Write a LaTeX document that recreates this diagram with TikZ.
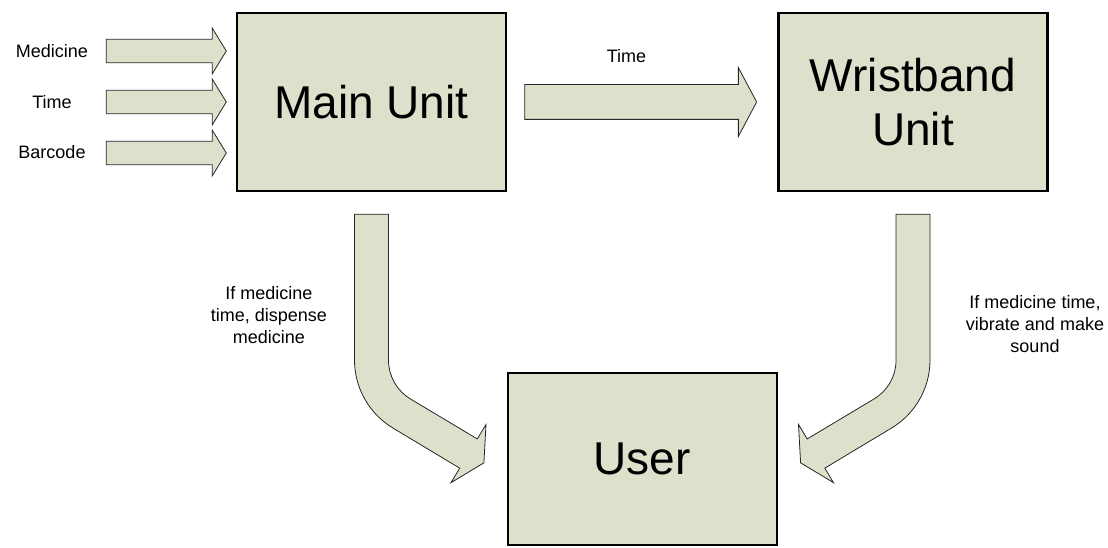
\documentclass[tikz,border=0pt]{standalone}
\usepackage{fontspec}
\setmainfont{Liberation Sans}
\usepackage{tikz}
\usetikzlibrary{positioning,calc,shapes.arrows}
\definecolor{unitfill}{RGB}{221,224,203}

\begin{document}
\begin{tikzpicture}[x=1pt, y=-1pt,
    every node/.style={font=\fontsize{18}{22}\selectfont},
    unit/.style={draw, line width=2.5pt, fill=unitfill, align=center, minimum width=269pt, minimum height=178pt, font=\fontsize{46}{54}\selectfont},
    fatarrow/.style={single arrow, draw=black!85, line width=0.8pt, fill=unitfill, inner xsep=0pt, inner ysep=17pt, single arrow head extend=17pt, single arrow tip angle=124, minimum width=0pt},
    thinarrow/.style={fatarrow, inner ysep=11.3pt, single arrow head extend=11.2pt, single arrow tip angle=117},
    bendarrow/.style={draw=black!85, line width=0.8pt, fill=unitfill}]
    \useasboundingbox (0,0) rectangle (1108,548);
    \node[unit] (main) at (371.5,102) {Main Unit};
    \node[unit, right=270pt of main] (band) {Wristband\\Unit};
    \node[unit, minimum height=172pt, anchor=north] (user) at ($(main.south)!.5!(band.south)+(0,179.5)$) {User};
    % inputs
    \node[thinarrow, minimum height=120pt, anchor=tip] (aMed) at ($(main.west)+(-9,-51)$) {};
    \node[thinarrow, minimum height=120pt, anchor=tip] (aTim) at ($(main.west)+(-9,0)$) {};
    \node[thinarrow, minimum height=120pt, anchor=tip] (aBar) at ($(main.west)+(-9,51)$) {};
    \node (lMed) at (52,51) {Medicine};
    \node (lTim) at (52,102) {Time};
    \node (lBar) at (52,152) {Barcode};
    % main unit -> wristband
    \node[fatarrow, minimum height=232pt, anchor=tail] (aTime) at ($(main.east)+(17,0)$) {};
    \node (lTime) at (626.5,56) {Time};
    % units -> user
    \begin{scope}[shift={(main.south)}]
      \draw[bendarrow] (-17,22) -- (-17,168) .. controls (-17,195.6) and (-2.4,221.4) .. (21.3,235.7) -- (88.2,275.9) -- (79.5,290.4) -- (112.4,270.6) -- (114.5,232.2) -- (105.8,246.7) -- (38.8,206.6) .. controls (25.3,198.5) and (17,183.8) .. (17,168) -- (17,22) -- cycle;
    \end{scope}
    \begin{scope}[shift={(band.south)}, xscale=-1]
      \draw[bendarrow] (-17,22) -- (-17,168) .. controls (-17,195.6) and (-2.4,221.4) .. (21.3,235.7) -- (88.2,275.9) -- (79.5,290.4) -- (112.4,270.6) -- (114.5,232.2) -- (105.8,246.7) -- (38.8,206.6) .. controls (25.3,198.5) and (17,183.8) .. (17,168) -- (17,22) -- cycle;
    \end{scope}
    \node[align=center] (lDisp) at (269,315.5) {If medicine\\time, dispense\\medicine};
    \node[align=center] (lBand) at (1035,324.5) {If medicine time,\\vibrate and make\\sound};
  \end{tikzpicture}
\end{document}
